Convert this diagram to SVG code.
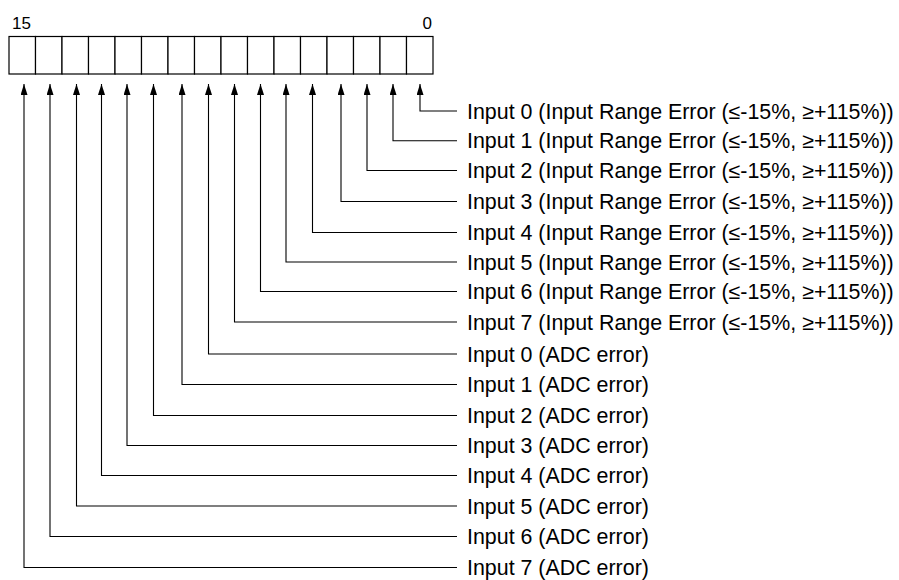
<svg xmlns="http://www.w3.org/2000/svg" width="899" height="580" viewBox="0 0 899 580">
<style>
.cell{fill:#fff;stroke:#000;stroke-width:1.2}
.conn{fill:none;stroke:#000;stroke-width:1.1}
.lbl{font-family:"Liberation Sans",Arial,Helvetica,sans-serif;font-size:21.4px;fill:#000}
.num{font-family:"Liberation Sans",Arial,Helvetica,sans-serif;font-size:17px;fill:#000}
</style>
<defs>
<marker id="ah" viewBox="0 0 11 7" refX="11" refY="3.5" markerWidth="11" markerHeight="7" markerUnits="userSpaceOnUse" orient="auto">
<path d="M0,0 L11,3.5 L0,7 z" fill="#000"/>
</marker>
</defs>
<rect width="899" height="580" fill="#fff"/>
<g id="register">
<text class="num" x="12" y="29">15</text>
<text class="num" x="432" y="29" text-anchor="end">0</text>
<rect class="cell" x="9" y="36.5" width="26.5" height="37.5"/>
<rect class="cell" x="35.5" y="36.5" width="26.5" height="37.5"/>
<rect class="cell" x="62" y="36.5" width="26.5" height="37.5"/>
<rect class="cell" x="88.5" y="36.5" width="26.5" height="37.5"/>
<rect class="cell" x="115" y="36.5" width="26.5" height="37.5"/>
<rect class="cell" x="141.5" y="36.5" width="26.5" height="37.5"/>
<rect class="cell" x="168" y="36.5" width="26.5" height="37.5"/>
<rect class="cell" x="194.5" y="36.5" width="26.5" height="37.5"/>
<rect class="cell" x="221" y="36.5" width="26.5" height="37.5"/>
<rect class="cell" x="247.5" y="36.5" width="26.5" height="37.5"/>
<rect class="cell" x="274" y="36.5" width="26.5" height="37.5"/>
<rect class="cell" x="300.5" y="36.5" width="26.5" height="37.5"/>
<rect class="cell" x="327" y="36.5" width="26.5" height="37.5"/>
<rect class="cell" x="353.5" y="36.5" width="26.5" height="37.5"/>
<rect class="cell" x="380" y="36.5" width="26.5" height="37.5"/>
<rect class="cell" x="406.5" y="36.5" width="26.5" height="37.5"/>
</g>
<g id="connectors">
<path class="conn" marker-end="url(#ah)" d="M457,111 H420 V84"/>
<path class="conn" marker-end="url(#ah)" d="M457,140.7 H393 V84"/>
<path class="conn" marker-end="url(#ah)" d="M457,170.5 H367 V84"/>
<path class="conn" marker-end="url(#ah)" d="M457,201.5 H341 V84"/>
<path class="conn" marker-end="url(#ah)" d="M457,232.5 H312.5 V84"/>
<path class="conn" marker-end="url(#ah)" d="M457,262 H286 V84"/>
<path class="conn" marker-end="url(#ah)" d="M457,291.5 H260.5 V84"/>
<path class="conn" marker-end="url(#ah)" d="M457,322 H234.5 V84"/>
<path class="conn" marker-end="url(#ah)" d="M457,354 H208.5 V84"/>
<path class="conn" marker-end="url(#ah)" d="M457,384.5 H182 V84"/>
<path class="conn" marker-end="url(#ah)" d="M457,415.5 H153.5 V84"/>
<path class="conn" marker-end="url(#ah)" d="M457,445.5 H127 V84"/>
<path class="conn" marker-end="url(#ah)" d="M457,475.5 H101.5 V84"/>
<path class="conn" marker-end="url(#ah)" d="M457,506 H76.5 V84"/>
<path class="conn" marker-end="url(#ah)" d="M457,536.5 H50 V84"/>
<path class="conn" marker-end="url(#ah)" d="M457,567.5 H24 V84"/>
</g>
<g id="label-bit0"><text class="lbl" x="467" y="118.5">Input 0 (Input Range Error (≤-15%, ≥+115%))</text></g>
<g id="label-bit1"><text class="lbl" x="467" y="148.2">Input 1 (Input Range Error (≤-15%, ≥+115%))</text></g>
<g id="label-bit2"><text class="lbl" x="467" y="178">Input 2 (Input Range Error (≤-15%, ≥+115%))</text></g>
<g id="label-bit3"><text class="lbl" x="467" y="209">Input 3 (Input Range Error (≤-15%, ≥+115%))</text></g>
<g id="label-bit4"><text class="lbl" x="467" y="240">Input 4 (Input Range Error (≤-15%, ≥+115%))</text></g>
<g id="label-bit5"><text class="lbl" x="467" y="269.5">Input 5 (Input Range Error (≤-15%, ≥+115%))</text></g>
<g id="label-bit6"><text class="lbl" x="467" y="299">Input 6 (Input Range Error (≤-15%, ≥+115%))</text></g>
<g id="label-bit7"><text class="lbl" x="467" y="329.5">Input 7 (Input Range Error (≤-15%, ≥+115%))</text></g>
<g id="label-bit8"><text class="lbl" x="467" y="361.5">Input 0 (ADC error)</text></g>
<g id="label-bit9"><text class="lbl" x="467" y="392">Input 1 (ADC error)</text></g>
<g id="label-bit10"><text class="lbl" x="467" y="423">Input 2 (ADC error)</text></g>
<g id="label-bit11"><text class="lbl" x="467" y="453">Input 3 (ADC error)</text></g>
<g id="label-bit12"><text class="lbl" x="467" y="483">Input 4 (ADC error)</text></g>
<g id="label-bit13"><text class="lbl" x="467" y="513.5">Input 5 (ADC error)</text></g>
<g id="label-bit14"><text class="lbl" x="467" y="544">Input 6 (ADC error)</text></g>
<g id="label-bit15"><text class="lbl" x="467" y="575">Input 7 (ADC error)</text></g>
</svg>
